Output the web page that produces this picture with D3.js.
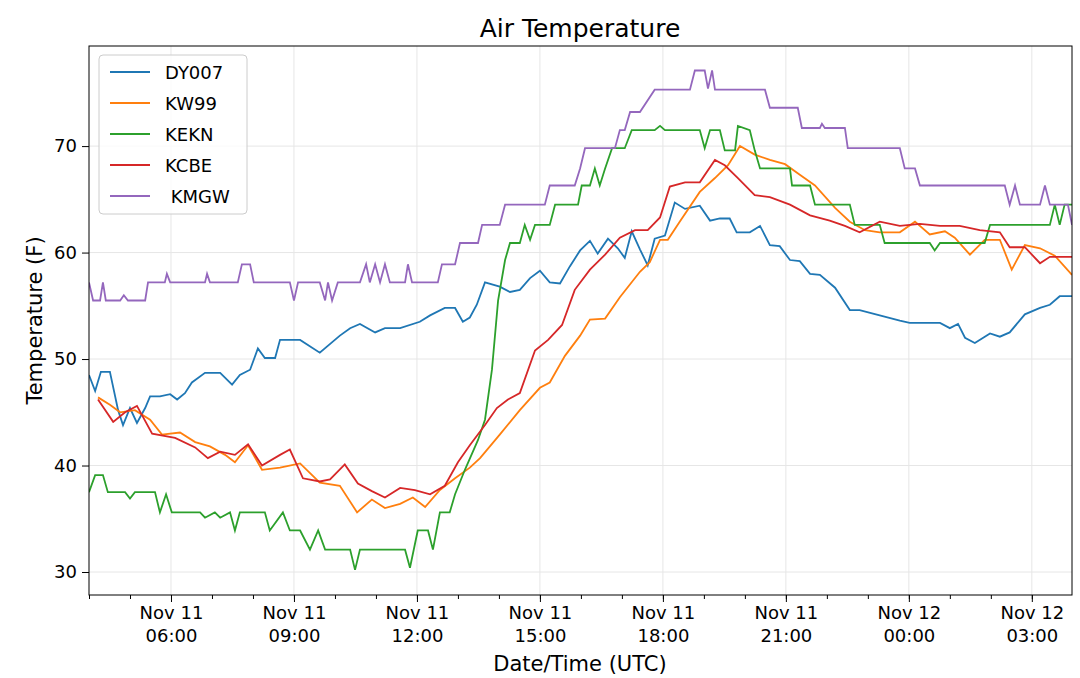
<!DOCTYPE html>
<html><head><meta charset="utf-8">
<script src="https://cdn.jsdelivr.net/npm/d3@7"></script>
<style>body{margin:0;background:#fff}text{font-family:"DejaVu Sans",sans-serif}</style>
</head><body><svg id="c" width="1080" height="678"></svg>
<script>
// hours since Nov 11 04:00 UTC, temperature (F)
const seriesNames = ["DY007","KW99","KEKN","KCBE"," KMGW"];
const colors = ["#1f77b4","#ff7f0e","#2ca02c","#d62728","#9467bd"];
const DY007 = [[0,48.5],[.15,47],[.29,48.8],[.51,48.8],[.71,45.2],[.83,43.8],[1,45.4],[1.17,44],[1.37,45.4],[1.49,46.5],[1.73,46.5],[1.98,46.7],[2.15,46.2],[2.34,46.8],[2.51,47.8],[2.83,48.7],[3.2,48.7],[3.49,47.6],[3.68,48.5],[3.93,49],[4.12,51],[4.29,50.1],[4.54,50.1],[4.66,51.8],[5.15,51.8],[5.63,50.6],[6.12,52.2],[6.37,52.9],[6.61,53.3],[6.98,52.5],[7.22,52.9],[7.59,52.9],[8.07,53.5],[8.32,54.1],[8.68,54.8],[8.93,54.8],[9.12,53.5],[9.29,53.9],[9.46,55.1],[9.66,57.2],[10.02,56.8],[10.27,56.3],[10.51,56.5],[10.76,57.6],[11,58.3],[11.24,57.2],[11.49,57.1],[11.73,58.7],[11.98,60.2],[12.22,61.1],[12.41,59.9],[12.66,61.3],[12.9,60.4],[13.07,59.5],[13.24,62],[13.44,60.3],[13.63,58.8],[13.8,61.3],[14.05,61.6],[14.29,64.7],[14.54,64.1],[14.9,64.4],[15.15,63],[15.39,63.2],[15.63,63.2],[15.8,61.9],[16.12,61.9],[16.37,62.5],[16.61,60.7],[16.85,60.6],[17.1,59.3],[17.34,59.2],[17.59,58],[17.83,57.9],[18.2,56.7],[18.56,54.6],[18.8,54.6],[19.29,54.1],[19.78,53.6],[20.02,53.4],[20.76,53.4],[21,52.9],[21.2,53.3],[21.37,52],[21.61,51.5],[21.98,52.4],[22.22,52.1],[22.46,52.5],[22.83,54.2],[23.2,54.8],[23.44,55.1],[23.68,55.9],[23.98,55.9]];
const KW99 = [[.22,46.4],[.51,45.7],[.76,45],[1.12,45.2],[1.49,44.3],[1.78,42.9],[2.22,43.1],[2.59,42.2],[2.95,41.8],[3.32,41],[3.56,40.3],[3.88,41.9],[4.22,39.6],[4.66,39.8],[5.15,40.2],[5.63,38.4],[6.12,38.1],[6.54,35.6],[6.9,36.8],[7.22,36],[7.59,36.4],[7.9,37],[8.2,36.1],[8.56,37.7],[8.93,38.8],[9.29,39.8],[9.54,40.7],[10.02,42.9],[10.51,45.2],[11,47.3],[11.24,47.8],[11.61,50.3],[11.98,52.2],[12.22,53.7],[12.59,53.8],[12.95,55.8],[13.44,58.2],[13.68,59.1],[13.93,61.2],[14.12,61.2],[14.41,62.9],[14.9,65.7],[15.27,67],[15.59,68.2],[15.88,70],[16.24,69.2],[16.61,68.7],[16.98,68.3],[17.34,67.3],[17.71,66.3],[18.2,64.2],[18.56,62.9],[18.93,62.1],[19.29,61.9],[19.78,61.9],[20.15,62.9],[20.51,61.7],[20.88,62],[21.12,61.4],[21.49,59.8],[21.85,61.2],[22.22,61.2],[22.51,58.4],[22.83,60.7],[23.2,60.4],[23.56,59.7],[23.98,57.9]];
const KEKN = [[0,37.5],[.15,39.1],[.34,39.1],[.46,37.5],[.88,37.5],[1,36.9],[1.12,37.5],[1.61,37.5],[1.73,35.6],[1.88,37.3],[2.02,35.6],[2.71,35.6],[2.83,35.1],[3.07,35.6],[3.2,35.1],[3.44,35.6],[3.56,33.9],[3.68,35.6],[4.29,35.6],[4.41,33.9],[4.73,35.6],[4.9,33.9],[5.15,33.9],[5.39,32.1],[5.59,33.9],[5.76,32.1],[6.37,32.1],[6.49,30.2],[6.61,32.1],[7.71,32.1],[7.83,30.4],[8.02,33.9],[8.27,33.9],[8.39,32.1],[8.56,35.6],[8.8,35.6],[8.93,37.3],[9.17,39.6],[9.49,42.4],[9.66,44.3],[9.83,49],[9.98,55.5],[10.15,59.3],[10.27,60.9],[10.51,60.9],[10.63,62.6],[10.76,61.2],[10.88,62.6],[11.24,62.6],[11.37,64.5],[11.93,64.5],[12.02,66.3],[12.22,66.3],[12.34,67.9],[12.46,66.3],[12.59,67.9],[12.76,69.8],[13.07,69.8],[13.24,71.5],[13.8,71.5],[13.93,71.9],[14.05,71.5],[14.9,71.5],[15.02,69.8],[15.15,71.5],[15.39,71.5],[15.51,69.6],[15.76,69.6],[15.83,71.9],[16.12,71.5],[16.24,69.6],[16.37,67.9],[17.1,67.9],[17.15,66.3],[17.59,66.3],[17.71,64.5],[18.56,64.5],[18.68,62.6],[19.29,62.6],[19.41,60.9],[20.51,60.9],[20.63,60.2],[20.76,60.9],[21.85,60.9],[21.98,62.6],[23.44,62.6],[23.56,64.5],[23.68,62.6],[23.8,64.5],[23.98,64.5]];
const KCBE = [[.22,46.2],[.59,44.1],[.88,45],[1.17,45.6],[1.54,43],[2.1,42.6],[2.59,41.7],[2.9,40.7],[3.2,41.3],[3.56,41],[3.88,42],[4.22,40],[4.66,41],[4.9,41.5],[5.22,38.8],[5.63,38.5],[5.88,38.7],[6.24,40.1],[6.56,38.3],[6.9,37.6],[7.22,37],[7.59,37.9],[7.95,37.7],[8.32,37.3],[8.68,38.1],[9,40.3],[9.29,41.9],[9.66,43.8],[9.95,45.4],[10.22,46.2],[10.51,46.8],[10.88,50.8],[11.2,51.8],[11.54,53.2],[11.85,56.5],[12.22,58.4],[12.59,59.8],[12.95,61.4],[13.32,62.1],[13.63,62.1],[13.93,63.3],[14.17,66.2],[14.54,66.6],[14.9,66.6],[15.27,68.7],[15.51,68.2],[15.83,67],[16.24,65.4],[16.61,65.2],[17.1,64.5],[17.59,63.5],[18.07,63],[18.44,62.5],[18.8,61.9],[19.29,62.9],[19.78,62.5],[20.27,62.7],[20.76,62.5],[21.24,62.5],[21.73,62.1],[22.22,61.9],[22.46,60.5],[22.83,60.5],[23.2,59],[23.44,59.6],[23.98,59.6]];
const KMGW = [[0,57.2],[.1,55.5],[.27,55.5],[.34,57.2],[.41,55.5],[.76,55.5],[.85,56],[.95,55.5],[1.37,55.5],[1.44,57.2],[1.85,57.2],[1.9,58],[1.98,57.2],[2.83,57.2],[2.88,58],[2.95,57.2],[3.63,57.2],[3.73,58.9],[3.93,58.9],[4.02,57.2],[4.9,57.2],[5,55.5],[5.1,57.2],[5.63,57.2],[5.76,55.5],[5.83,57.2],[5.93,55.5],[6.07,57.2],[6.61,57.2],[6.76,58.9],[6.85,57.2],[6.98,58.9],[7.1,57.2],[7.22,58.9],[7.34,57.2],[7.71,57.2],[7.78,58.9],[7.88,57.2],[8.51,57.2],[8.61,58.9],[8.93,58.9],[9.05,60.9],[9.49,60.9],[9.59,62.6],[10.02,62.6],[10.15,64.5],[11.12,64.5],[11.24,66.3],[11.85,66.3],[11.98,67.9],[12.1,69.8],[12.83,69.8],[12.95,71.5],[13.07,71.5],[13.2,73.2],[13.44,73.2],[13.8,75.3],[14.66,75.3],[14.78,77.1],[15.02,77.1],[15.1,75.4],[15.2,77.1],[15.27,75.3],[16.49,75.3],[16.61,73.6],[17.29,73.6],[17.39,71.7],[17.83,71.7],[17.88,72.1],[17.95,71.7],[18.44,71.7],[18.51,69.8],[19.78,69.8],[19.9,67.9],[20.15,67.9],[20.27,66.3],[22.34,66.3],[22.46,64.5],[22.59,66.3],[22.71,64.5],[23.2,64.5],[23.32,66.3],[23.44,64.5],[23.88,64.5],[23.98,62.6]];
const allSeries = [DY007, KW99, KEKN, KCBE, KMGW];
const yTicks = [30,40,50,60,70];
const startTime = Date.UTC(2018,10,11,4,0);

const m = {l:89,t:46,r:1072,b:595};
const svg = d3.select("#c");
const toDate = h => new Date(startTime + h*3600e3);
const x = d3.scaleUtc().domain([toDate(0), toDate(23.98)]).range([m.l,m.r]);
const y = d3.scaleLinear().domain([27.84,79.4]).range([m.b,m.t]);
const majors = d3.utcHour.every(3).range(toDate(0), toDate(24)).filter(d=>d.getUTCHours()%3===0);
const minors = d3.utcHour.range(toDate(0), toDate(24));

svg.append("g").selectAll("line").data(majors).join("line")
 .attr("x1",d=>x(d)).attr("x2",d=>x(d)).attr("y1",m.t).attr("y2",m.b).attr("stroke","#e6e6e6");
svg.append("g").selectAll("line").data(yTicks).join("line")
 .attr("x1",m.l).attr("x2",m.r).attr("y1",d=>y(d)).attr("y2",d=>y(d)).attr("stroke","#e6e6e6");

const line = d3.line().x(d=>x(toDate(d[0]))).y(d=>y(d[1]));
svg.append("clipPath").attr("id","cp").append("rect").attr("x",m.l).attr("y",m.t).attr("width",m.r-m.l).attr("height",m.b-m.t);
allSeries.forEach((s,i)=>svg.append("path").datum(s).attr("d",line).attr("fill","none")
 .attr("stroke",colors[i]).attr("stroke-width",1.8).attr("clip-path","url(#cp)"));

svg.append("rect").attr("x",m.l).attr("y",m.t).attr("width",m.r-m.l).attr("height",m.b-m.t).attr("fill","none").attr("stroke","#000").attr("stroke-width",1);

const fmtD = d3.utcFormat("%b %d"), fmtT = d3.utcFormat("%H:%M");
const gx = svg.append("g").attr("transform",`translate(0,${m.b})`).call(d3.axisBottom(x).tickValues(majors).tickSize(7).tickFormat(""));
svg.append("g").attr("transform",`translate(0,${m.b})`).call(d3.axisBottom(x).tickValues(minors).tickSize(4).tickFormat(""));
gx.selectAll(".tick").append("text").attr("fill","#000").attr("font-size",18).attr("text-anchor","middle")
 .each(function(d){const t=d3.select(this);t.append("tspan").attr("x",0).attr("y",24).text(fmtD(d).replace(/ 0/," "));t.append("tspan").attr("x",0).attr("y",47).text(fmtT(d));});
const gy = svg.append("g").attr("transform",`translate(${m.l},0)`).call(d3.axisLeft(y).tickValues(yTicks).tickSize(7).tickPadding(5));
gy.selectAll("text").attr("font-size",18).attr("font-family","DejaVu Sans");
svg.selectAll(".domain").remove();

svg.append("text").attr("x",580).attr("y",37).attr("text-anchor","middle").attr("font-size",25).text("Air Temperature");
svg.append("text").attr("x",580).attr("y",671).attr("text-anchor","middle").attr("font-size",21).text("Date/Time (UTC)");
svg.append("text").attr("transform",`translate(42,${(m.t+m.b)/2}) rotate(-90)`).attr("text-anchor","middle").attr("font-size",21).text("Temperature (F)");

const lg = svg.append("g");
lg.append("rect").attr("x",99).attr("y",55).attr("width",148).attr("height",159).attr("rx",4).attr("fill","#fff").attr("fill-opacity",0.8).attr("stroke","#ccc");
seriesNames.forEach((n,i)=>{
 const yy = 72+i*31;
 lg.append("line").attr("x1",110).attr("x2",150).attr("y1",yy).attr("y2",yy).attr("stroke",colors[i]).attr("stroke-width",2);
 lg.append("text").attr("x",165).attr("y",yy+7).attr("font-size",18).attr("xml:space","preserve").style("white-space","pre").text(n);
});
</script></body></html>
